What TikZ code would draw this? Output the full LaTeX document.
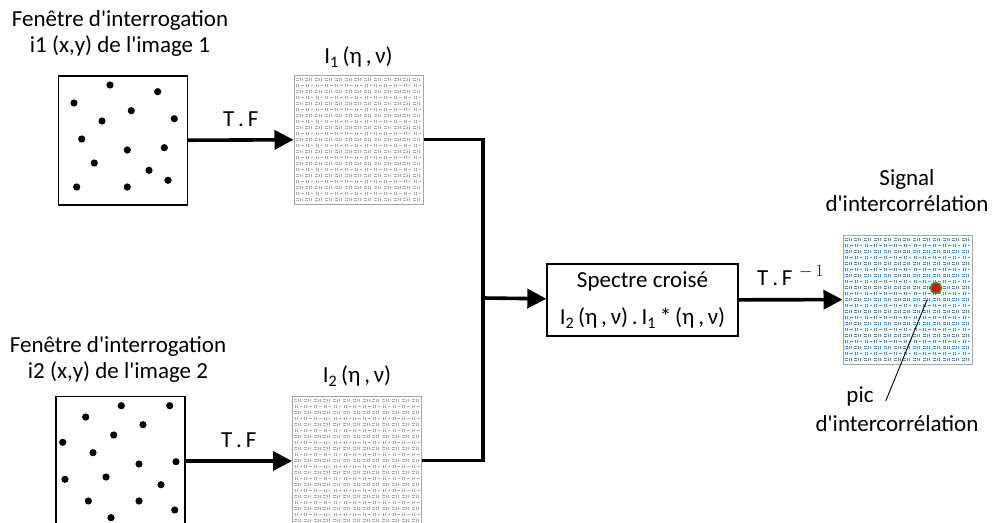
\documentclass[tikz,border=0pt]{standalone}
\usepackage{fontspec}
\setmainfont{Carlito}[Ligatures=TeXOff]
\usetikzlibrary{positioning,arrows.meta,calc}

\newcommand{\spectrum}[2]{%
  \begin{scope}[shift={(#1.north west)},draw=#2,line width=.9pt]
    \foreach \i in {0,...,12}{\foreach \j in {0,...,20}{
      \ifodd\j
        \draw (3+\i*9.8,3.5+\j*6) -- ++(0,3) (5+\i*9.8,3.5+\j*6) -- ++(0,3)
              (7.5+\i*9.8,5+\j*6) -- ++(2.5,0);
      \else
        \draw (2+\i*9.8,3.5+\j*6) -- ++(3,0) (2+\i*9.8,6+\j*6) -- ++(3,0)
              (6.5+\i*9.8,3.5+\j*6) -- ++(0,3) (8.5+\i*9.8,3.5+\j*6) -- ++(0,3);
      \fi}}
  \end{scope}}

\begin{document}
\begin{tikzpicture}[x=1pt,y=-1pt,
  txt/.style={font=\fontsize{23}{26}\selectfont,inner sep=0pt,align=center},
  win/.style={draw,line width=1.4pt,minimum size=129pt,inner sep=0pt},
  spec/.style={draw=gray!70,line width=1pt,minimum size=129pt,inner sep=0pt},
  cross/.style={draw,line width=1.3pt,minimum width=191pt,minimum height=72pt,inner sep=0pt,align=center,
    font=\fontsize{23}{37}\selectfont},
  bus/.style={line width=3.6pt},
  a/.style={bus,-{Triangle[length=19pt,width=19pt]}}]
  \useasboundingbox (0,0) rectangle (993,522);
  \node[win] (w1) at (123,140.5) {};
  \node[txt] (t1) at (120,33) {Fenêtre d'interrogation\\i1 (x,y) de l'image 1};
  \node[win] (w2) at (120.5,461) {};
  \node[txt] (t2) at (118,359) {Fenêtre d'interrogation\\i2 (x,y) de l'image 2};
  \foreach \p in {(110,85),(157.7,91.7),(74,103),(131.3,110.7),(102,121),(174.3,118.7),(81.7,139),
    (127.3,150),(164.3,147.7),(94.3,163),(149,170.3),(76.7,187),(127.3,187),(168,180.3)}
    \fill \p circle[radius=3.6pt];
  \foreach \p in {(121.3,405.7),(169.7,405.7),(85.7,417),(143,424.7),(113.7,435),(62.7,442.3),
    (93,452.7),(139,464),(176,461.7),(65,479.3),(106,477),(161,484.7),(88.3,501),(139,501),
    (174.7,510),(111,517.7)}
    \fill \p circle[radius=3.6pt];
  \node[spec] (f1) at (358.5,139.5) {};
  \node[txt,above=7pt of f1] (l1) {I\textsubscript{1}\,(η\,,\,ν)};
  \node[spec] (f2) at (357,460.5) {};
  \node[txt,above=9pt of f2] (l2) {I\textsubscript{2}\,(η\,,\,ν)};
  \spectrum{f1}{gray!65}
  \spectrum{f2}{gray!65}
  \node[cross] (cs) at (642.5,300) {Spectre croisé\\I\textsubscript{2}\,(η\,,\,ν)\,.\,I\textsubscript{1}\,*\,(η\,,\,ν)};
  \node[spec] (out) at (907.5,299.5) {};
  \spectrum{out}{cyan!60!blue!75}
  \node[circle,fill=red,draw=green!55!black!85,line width=1.6pt,minimum size=11pt,inner sep=0pt] (peak) at (936,288) {};
  \node[txt] (sig) at (907,191) {Signal\\d'intercorrélation};
  \node[txt] (pic) at (860,396) {pic};
  \node[txt,below=9pt of pic.south,anchor=north,xshift=37pt] (picb) {d'intercorrélation};
  \coordinate (junc) at (483,298);
  \coordinate (lead) at (927,300);
  \draw[a] (w1) -- node[txt,above=12pt] {T\,.\,F} (f1);
  \draw[a] (w2.east|-0,461) -- node[txt,above=12pt] {T\,.\,F} (f2.west|-0,461);
  \draw[bus] (f1.east) -| (junc) |- (f2.east);
  \draw[a] (junc) -- (cs);
  \draw[a] (cs) -- node[txt,above=12pt] {T\,.\,F\,$^{\,-\,1}$} (out);
  \draw[line width=.9pt] (lead) -- ([xshift=12pt,yshift=-5pt]pic.east);
\end{tikzpicture}
\end{document}
